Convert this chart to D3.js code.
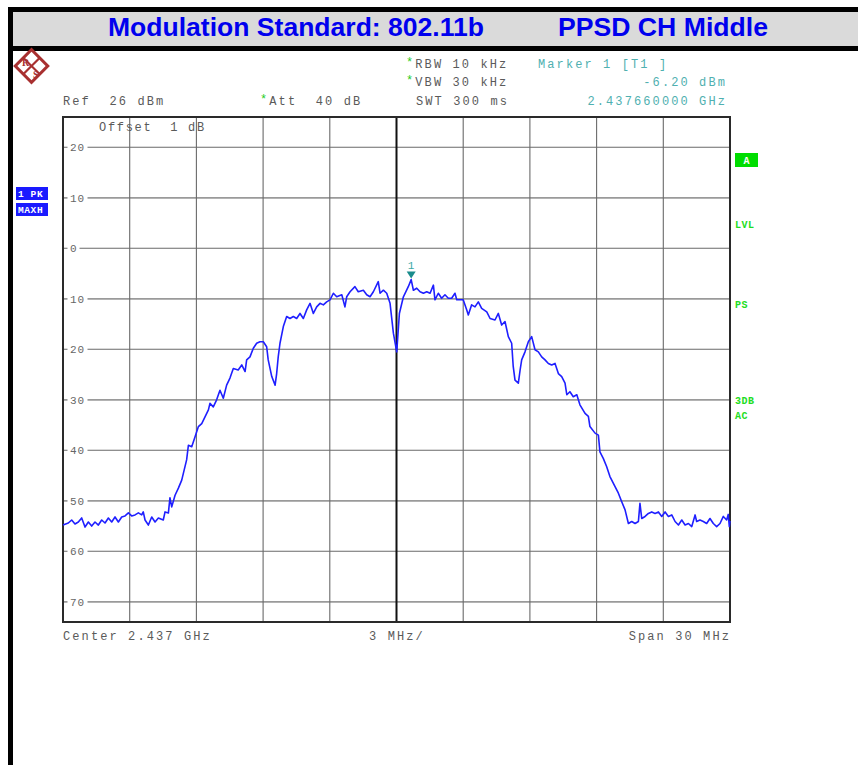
<!DOCTYPE html>
<html><head><meta charset="utf-8">
<script src="https://cdn.jsdelivr.net/npm/d3@7"></script>
<style>body{margin:0;background:#fff}svg{display:block}</style>
</head><body>
<svg id="c" width="858" height="765"></svg>
<script>
// ---- data (frequency offset from 2.437 GHz centre, MHz ; level, dBm) ----
const freqOffsetMHz = [-15.00,-14.76,-14.61,-14.46,-14.31,-14.16,-14.01,-13.86,-13.71,-13.56,-13.41,-13.26,-13.11,-12.96,-12.81,-12.66,-12.51,-12.36,-12.21,-12.06,-11.91,-11.76,-11.61,-11.46,-11.39,-11.31,-11.16,-11.01,-10.86,-10.71,-10.49,-10.41,-10.26,-10.19,-10.11,-9.96,-9.81,-9.66,
 -9.44,-9.36,-9.21,-9.06,-8.91,-8.76,-8.46,-8.39,-8.24,-8.09,-7.94,-7.79,-7.64,-7.49,-7.34,-7.12,-6.96,-6.81,-6.74,-6.59,-6.44,-6.29,-6.14,-5.99,-5.84,-5.77,-5.61,-5.46,-5.39,-5.32,-5.24,-5.09,-4.94,-4.79,-4.64,-4.49,-4.34,-4.19,-4.04,-3.89,-3.74,-3.59,-3.44,-3.29,-3.14,-2.99,-2.84,-2.69,-2.46,-2.32,-2.24,-2.09,-1.87,-1.72,-1.49,-1.34,-1.19,-1.04,-0.82,-0.74,-0.59,-0.44,-0.29,-0.14,0.01,0.13,0.31,0.53,
 0.66,0.76,0.91,1.06,1.21,1.36,1.51,1.66,1.73,1.88,2.03,2.18,2.33,2.48,2.63,2.71,2.86,3.00,3.16,3.23,3.38,3.53,3.68,3.83,4.06,4.21,4.43,4.58,4.73,4.88,5.03,5.18,5.25,5.33,5.48,5.56,5.63,5.78,5.93,6.08,6.23,6.38,6.53,6.68,6.83,6.98,7.13,7.28,7.43,7.58,7.66,7.80,7.95,8.11,8.25,8.48,8.63,8.70,8.93,9.08,9.15,9.30,9.45,9.60,9.83,9.98,10.13,10.28,10.43,10.58,10.73,10.88,10.95,11.03,11.18,11.33,11.48,11.63,11.78,11.93,12.08,12.23,12.38,12.53,12.68,12.83,12.98,13.13,13.28,13.43,13.50,13.65,13.80,13.95,14.10,14.25,14.40,14.55,14.70,14.85,14.92,14.97,15.00];
const levelDbm = [-54.8,-54.4,-53.8,-54.6,-54.2,-53.4,-55.2,-54.2,-55.0,-54.2,-54.8,-53.8,-54.4,-53.4,-54.2,-53.2,-54.2,-53.2,-53.0,-52.4,-53.0,-52.8,-52.4,-52.8,-52.2,-53.8,-54.8,-53.2,-54.2,-53.4,-53.8,-52.2,-52.4,-49.4,-51.2,-48.9,-47.5,-45.9,
 -41.9,-39.0,-39.3,-37.3,-35.3,-34.7,-32.0,-30.7,-31.4,-30.0,-28.1,-29.7,-27.1,-25.7,-23.8,-24.1,-23.1,-24.4,-22.1,-21.5,-19.8,-18.8,-18.5,-18.5,-19.5,-22.1,-25.4,-27.1,-24.8,-21.5,-18.8,-15.5,-13.5,-13.9,-13.5,-13.9,-12.9,-13.9,-12.2,-10.9,-12.9,-11.6,-10.9,-11.2,-10.6,-10.2,-8.9,-9.6,-9.2,-11.6,-9.6,-8.6,-7.6,-8.6,-8.3,-9.2,-9.6,-8.6,-6.6,-8.9,-8.3,-8.9,-10.9,-16.8,-20.5,-12.9,-9.6,-7.6,
 -6.2,-8.3,-7.9,-8.6,-8.9,-8.6,-8.9,-7.3,-10.2,-8.9,-9.9,-9.2,-9.9,-9.9,-8.9,-10.2,-10.2,-10.2,-12.2,-13.2,-11.2,-11.6,-10.6,-11.9,-12.6,-13.9,-14.2,-12.9,-15.2,-14.5,-17.5,-18.8,-23.4,-26.1,-26.7,-24.1,-22.1,-20.5,-18.5,-17.5,-20.1,-20.5,-21.5,-22.1,-22.8,-23.1,-22.8,-24.8,-25.4,-26.7,-29.0,-28.4,-29.4,-29.0,-31.0,-32.7,-33.3,-35.3,-36.6,-37.0,-40.3,-41.6,-43.2,-45.2,-47.2,-48.5,-50.2,-51.8,-54.5,-54.1,-54.5,-54.1,-50.5,-53.5,-53.1,-52.5,-52.2,-52.5,-52.2,-53.1,-52.2,-53.1,-52.8,-54.1,-54.8,-53.8,-54.8,-54.5,-55.1,-52.8,-54.1,-53.8,-54.1,-54.5,-53.5,-54.5,-55.1,-54.5,-53.1,-53.8,-52.7,-55.1,-54.0];
const gridLevels = [20,10,0,-10,-20,-30,-40,-50,-60,-70];
const gridLabels = ["20","10","0","10","20","30","40","50","60","70"];
const freqGrid = [-12,-9,-6,-3,0,3,6,9,12];
const marker = {freq:0.66, level:-6.2, label:"1"};
const titleLeft = "Modulation Standard: 802.11b";
const titleRight = "PPSD CH Middle";

// ---- drawing ----
const svg = d3.select("#c");
const x = d3.scaleLinear().domain([-15,15]).range([63,730]);
const y = d3.scaleLinear().domain([-74,26]).range([622,117]);
const mono = "'Liberation Mono','DejaVu Sans Mono',monospace";

// frame & title band
svg.append("rect").attr("x",8).attr("y",7).attr("width",850).attr("height",44).attr("fill","#000");
svg.append("rect").attr("x",13).attr("y",12).attr("width",845).attr("height",34).attr("fill","#dadada");
svg.append("rect").attr("x",8).attr("y",7).attr("width",5).attr("height",758).attr("fill","#000");
svg.append("text").attr("x",108).attr("y",36).attr("font-family","'Liberation Sans',Arial,sans-serif")
  .attr("font-weight","bold").attr("font-size",26).attr("fill","#0000ee")
  .attr("textLength",376).attr("lengthAdjust","spacingAndGlyphs").text(titleLeft);
svg.append("text").attr("x",558).attr("y",36).attr("font-family","'Liberation Sans',Arial,sans-serif")
  .attr("font-weight","bold").attr("font-size",26).attr("fill","#0000ee")
  .attr("textLength",210).attr("lengthAdjust","spacingAndGlyphs").text(titleRight);

// R&S logo
const logo = svg.append("g").attr("transform","translate(31.5,66) rotate(45)");
logo.append("rect").attr("x",-11.5).attr("y",-11.5).attr("width",23).attr("height",23)
  .attr("fill","none").attr("stroke","#a83030").attr("stroke-width",3);
logo.append("line").attr("x1",-11).attr("y1",0).attr("x2",11).attr("y2",0).attr("stroke","#a83030").attr("stroke-width",2.2);
logo.append("line").attr("x1",0).attr("y1",-11).attr("x2",0).attr("y2",11).attr("stroke","#a83030").attr("stroke-width",2.2);
svg.append("text").attr("x",22).attr("y",66).attr("font-family","'Liberation Serif',serif").attr("font-size",10).attr("font-weight","bold").attr("fill","#a83030").text("R");
svg.append("text").attr("x",33).attr("y",78).attr("font-family","'Liberation Serif',serif").attr("font-size",10).attr("font-weight","bold").attr("fill","#a83030").text("S");

// header texts
function mtext(tx,ty,str,opt={}){
  const t = svg.append("text").attr("x",tx).attr("y",ty).attr("font-family",mono)
    .attr("font-size",opt.size||12).attr("letter-spacing",opt.ls==null?2.1:opt.ls)
    .attr("fill",opt.fill||"#5a5a5a").attr("text-anchor",opt.anchor||"start").style("white-space","pre");
  if(opt.star){ t.append("tspan").attr("fill","#22cc22").attr("dy",-2).text("*"); t.append("tspan").attr("dy",2).text(str);}
  else t.text(str);
  return t;
}
mtext(63,105,"Ref  26 dBm");
mtext(260,105,"Att  40 dB",{star:true});
mtext(406,68,"RBW 10 kHz",{star:true});
mtext(406,86,"VBW 30 kHz",{star:true});
mtext(416,105,"SWT 300 ms");
mtext(538,68,"Marker 1 [T1 ]",{fill:"#4fb0b0"});
mtext(727,86,"-6.20 dBm",{fill:"#4fb0b0",anchor:"end"});
mtext(727,105,"2.437660000 GHz",{fill:"#4fb0b0",anchor:"end"});
mtext(63,640,"Center 2.437 GHz");
mtext(397,640,"3 MHz/",{anchor:"middle"});
mtext(731,640,"Span 30 MHz",{anchor:"end"});

// grid
const g = svg.append("g");
g.selectAll("line.h").data(gridLevels).join("line").attr("class","h")
  .attr("x1",63).attr("x2",730).attr("y1",d=>y(d)).attr("y2",d=>y(d))
  .attr("stroke",(d,i)=>i%2?"#9a9a9a":"#6a6a6a").attr("stroke-width",(d,i)=>i%2?1.8:1.1);
g.selectAll("line.v").data(freqGrid).join("line").attr("class","v")
  .attr("x1",d=>x(d)).attr("x2",d=>x(d)).attr("y1",117).attr("y2",622)
  .attr("stroke",d=>d===0?"#111":"#6a6a6a").attr("stroke-width",d=>d===0?2:1.1);
// tick labels inside plot, grid broken around them
gridLevels.forEach((d,i)=>{
  const w = gridLabels[i].length*8+4;
  g.append("rect").attr("x",67.5).attr("y",y(d)-5).attr("width",w).attr("height",10).attr("fill","#fff");
  g.append("text").attr("x",70).attr("y",y(d)+4).attr("font-family",mono).attr("font-size",11)
    .attr("letter-spacing",0.8).attr("fill","#666").text(gridLabels[i]);
});
mtext(99,131,"Offset  1 dB",{size:12,ls:1.7});
// plot border
svg.append("rect").attr("x",63).attr("y",117).attr("width",667).attr("height",505)
  .attr("fill","none").attr("stroke","#2a2a2a").attr("stroke-width",2);

// trace
const pts = freqOffsetMHz.map((f,i)=>[f,levelDbm[i]]);
svg.append("path").datum(pts).attr("fill","none").attr("stroke","#1f1fff").attr("stroke-width",1.6)
  .attr("stroke-linejoin","round")
  .attr("d",d3.line().x(d=>x(d[0])).y(d=>y(d[1])));

// marker
const mx = x(marker.freq), my = y(marker.level);
svg.append("path").attr("d",`M${mx-4.5},${my-8}L${mx+4.5},${my-8}L${mx},${my-1}Z`).attr("fill","#1a8c8c");
svg.append("text").attr("x",mx).attr("y",my-11).attr("text-anchor","middle").attr("font-family",mono)
  .attr("font-size",11).attr("fill","#3aa8a8").text(marker.label);

// left side labels
[["1 PK",187],["MAXH",203]].forEach(([s,yy])=>{
  svg.append("rect").attr("x",16).attr("y",yy).attr("width",32).attr("height",13).attr("fill","#1a1aff");
  svg.append("text").attr("x",18).attr("y",yy+10).attr("font-family",mono).attr("font-weight","bold")
    .attr("font-size",9.5).attr("letter-spacing",0.6).attr("fill","#fff").style("white-space","pre").text(s);
});
// right side labels
svg.append("rect").attr("x",735).attr("y",153).attr("width",23).attr("height",14).attr("fill","#00dd00");
svg.append("text").attr("x",746.5).attr("y",164).attr("text-anchor","middle").attr("font-family",mono)
  .attr("font-weight","bold").attr("font-size",10).attr("fill","#fff").text("A");
[["LVL",228],["PS",308],["3DB",404],["AC",419]].forEach(([s,yy])=>{
  svg.append("text").attr("x",735).attr("y",yy).attr("font-family",mono).attr("font-weight","bold")
    .attr("font-size",10).attr("letter-spacing",0.5).attr("fill","#22dd22").text(s);
});
</script>
</body></html>
